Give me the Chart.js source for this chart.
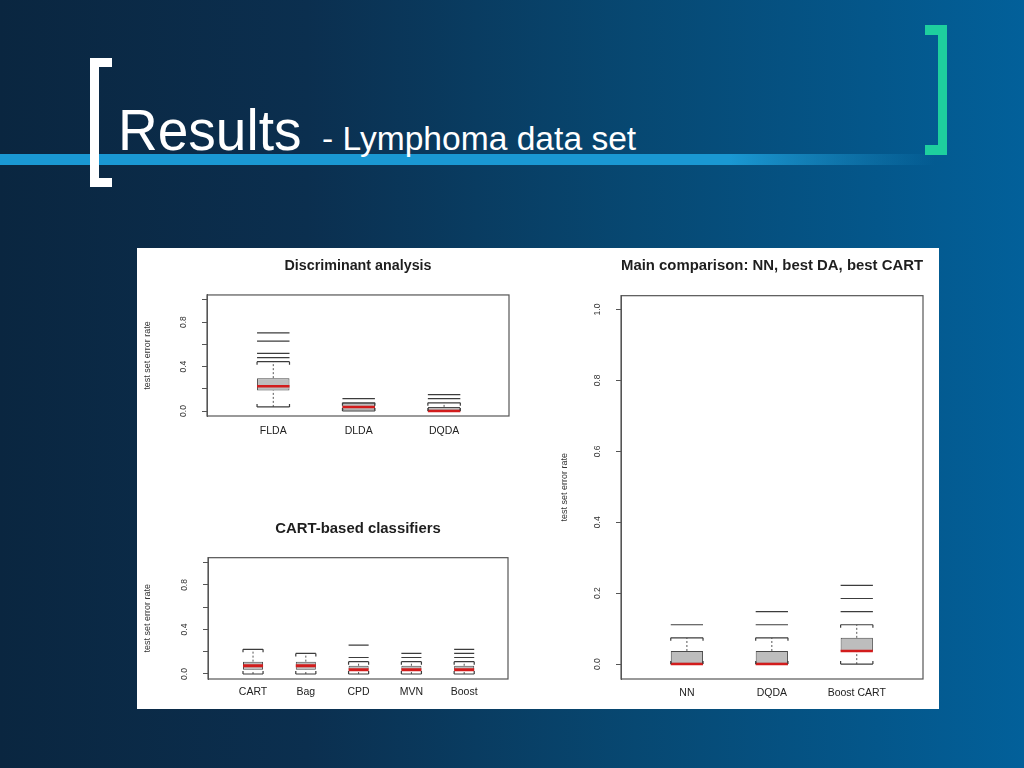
<!DOCTYPE html>
<html>
<head>
<meta charset="utf-8">
<script src="https://cdn.jsdelivr.net/npm/chart.js@4.4.0/dist/chart.umd.min.js"></script>
<style>
  html, body { margin:0; padding:0; width:1024px; height:768px; overflow:hidden; }
  body {
    position:relative;
    background: linear-gradient(90deg, #0a2640 0%, #0b2f4f 30%, #074872 62%, #02609a 100%);
    font-family: "Liberation Sans", Arial, sans-serif;
  }
  .stripe { position:absolute; left:0; top:154px; width:935px; height:11px;
    background: linear-gradient(90deg, #1a98d3 0%, #1a98d3 78%, rgba(26,152,211,0) 100%); }
  .lbracket { position:absolute; left:90px; top:58px; width:22px; height:129px; box-sizing:border-box;
    border-left:9px solid #fff; border-top:9px solid #fff; border-bottom:9px solid #fff; }
  .rbracket { position:absolute; left:925px; top:25px; width:22px; height:130px; box-sizing:border-box;
    border-right:9px solid #1ecf9e; border-top:10px solid #1ecf9e; border-bottom:10px solid #1ecf9e; }
  .t1 { position:absolute; left:118px; top:101.7px; font-size:57px; line-height:57px; color:#fff; white-space:nowrap;
        transform:scaleX(0.965); transform-origin:0 0; }
  .t2 { position:absolute; left:322px; top:122px; font-size:33.6px; line-height:33.6px; color:#fff; white-space:nowrap; }
  .panel { position:absolute; left:137px; top:248px; width:802px; height:461px; background:#fff; }
  canvas { position:absolute; }
</style>
</head>
<body>
<div class="stripe"></div>
<div class="lbracket"></div>
<div class="rbracket"></div>
<div class="t1">Results</div>
<div class="t2">- Lymphoma data set</div>
<div class="panel"></div>
<canvas id="c1" width="400" height="202" style="left:137px;top:248px;width:400px;height:202px"></canvas>
<canvas id="c2" width="400" height="199" style="left:137px;top:510px;width:400px;height:199px"></canvas>
<canvas id="c3" width="402" height="461" style="left:537px;top:248px;width:402px;height:461px"></canvas>
<script>
// ---------------- DATA ----------------
const DA_TITLE = 'Discriminant analysis';
const DA_CATEGORIES = ['FLDA', 'DLDA', 'DQDA'];
const DA_LOWER  = [0.037, 0.000, 0.000];
const DA_Q1     = [0.185, 0.000, 0.000];
const DA_MEDIAN = [0.222, 0.037, 0.000];
const DA_Q3     = [0.296, 0.074, 0.037];
const DA_UPPER  = [0.444, 0.074, 0.074];
const DA_OUTLIERS = [[0.481, 0.519, 0.630, 0.704], [0.111], [0.111, 0.148]];

const CART_TITLE = 'CART-based classifiers';
const CART_CATEGORIES = ['CART', 'Bag', 'CPD', 'MVN', 'Boost'];
const CART_LOWER  = [0.000, 0.000, 0.000, 0.000, 0.000];
const CART_Q1     = [0.037, 0.037, 0.037, 0.037, 0.037];
const CART_MEDIAN = [0.074, 0.074, 0.037, 0.037, 0.037];
const CART_Q3     = [0.111, 0.111, 0.074, 0.074, 0.074];
const CART_UPPER  = [0.222, 0.185, 0.111, 0.111, 0.111];
const CART_OUTLIERS = [[], [], [0.148, 0.259], [0.148, 0.185], [0.148, 0.185, 0.222]];

const MAIN_TITLE = 'Main comparison: NN, best DA, best CART';
const MAIN_CATEGORIES = ['NN', 'DQDA', 'Boost CART'];
const MAIN_LOWER  = [0.000, 0.000, 0.000];
const MAIN_Q1     = [0.000, 0.000, 0.037];
const MAIN_MEDIAN = [0.000, 0.000, 0.037];
const MAIN_Q3     = [0.037, 0.037, 0.074];
const MAIN_UPPER  = [0.074, 0.074, 0.111];
const MAIN_OUTLIERS = [[0.111], [0.111, 0.148], [0.148, 0.185, 0.222]];

const Y_AXIS_TITLE = 'test set error rate';
const Y_TICK_VALUES = [0.0, 0.2, 0.4, 0.6, 0.8, 1.0];
const Y_TICK_LABELS_SMALL = ['0.0', '', '0.4', '', '0.8', ''];
const Y_TICK_LABELS_MAIN  = ['0.0', '0.2', '0.4', '0.6', '0.8', '1.0'];

// ---------------- STYLE ----------------
const FONT = "'Liberation Sans', Arial, Helvetica, sans-serif";
Chart.defaults.font.family = FONT;
const BOX_WIDTH = 0.38;      // box width as a fraction of the category spacing
const MEDIAN_COLOR = '#d21c1c';
const LINE_COLOR = '#3c3c3c';
const BOX_FILL = '#bdbdbd';

function halfBoxPx(ctx) {
  const s = ctx.chart.scales.x;
  if (!s) return 0;
  const d = Math.abs(s.getPixelForValue(1 + BOX_WIDTH / 2) - s.getPixelForValue(1));
  return isFinite(d) ? d : 0;
}

const framePlugin = {
  id: 'frame',
  afterDatasetsDraw(chart) {
    const a = chart.chartArea, ctx = chart.ctx;
    ctx.save();
    // small end ticks on whisker staples (pointing toward the box)
    chart.data.datasets.forEach((ds, di) => {
      if (ds.label !== 'whisker caps') return;
      const meta = chart.getDatasetMeta(di);
      ctx.strokeStyle = LINE_COLOR;
      ctx.lineWidth = 1.2;
      meta.data.forEach((el, i) => {
        const r = el.options.radius;
        const dir = (i % 2 === 1) ? 1 : -1;
        ctx.beginPath();
        ctx.moveTo(el.x - r, el.y); ctx.lineTo(el.x - r, el.y + dir * 3);
        ctx.moveTo(el.x + r, el.y); ctx.lineTo(el.x + r, el.y + dir * 3);
        ctx.stroke();
      });
    });
    ctx.strokeStyle = '#555';
    ctx.lineWidth = 1.2;
    ctx.strokeRect(a.left, a.top, a.right - a.left, a.bottom - a.top);
    ctx.restore();
  }
};

function makeBoxplot(id, cfg) {
  const cats = cfg.categories;
  const xs = cats.map((c, i) => i + 1);
  const boxes = xs.map((x, i) => ({ x, y: [cfg.q1[i], cfg.q3[i]] }));
  const medians = xs.map((x, i) => ({ x, y: cfg.median[i] }));
  const caps = [];
  const whiskers = [];
  const outs = [];
  xs.forEach((x, i) => {
    caps.push({ x, y: cfg.lower[i] }, { x, y: cfg.upper[i] });
    whiskers.push({ x, y: cfg.lower[i] }, { x, y: cfg.q1[i] }, { x, y: null },
                  { x, y: cfg.q3[i] }, { x, y: cfg.upper[i] }, { x, y: null });
    cfg.outliers[i].forEach(v => outs.push({ x, y: v }));
  });
  const L = cfg.layout;
  return new Chart(document.getElementById(id), {
    type: 'scatter',
    data: {
      datasets: [
        { type: 'scatter', label: 'median', data: medians, order: 0,
          pointStyle: 'line', pointRadius: halfBoxPx, pointHoverRadius: halfBoxPx,
          pointBorderColor: MEDIAN_COLOR, pointBorderWidth: L.medianWidth, pointHoverBorderWidth: L.medianWidth },
        { type: 'scatter', label: 'whisker caps', data: caps, order: 1,
          pointStyle: 'line', pointRadius: halfBoxPx, pointHoverRadius: halfBoxPx,
          pointBorderColor: LINE_COLOR, pointBorderWidth: 1.2, pointHoverBorderWidth: 1.2 },
        { type: 'scatter', label: 'outliers', data: outs, order: 1,
          pointStyle: 'line', pointRadius: halfBoxPx, pointHoverRadius: halfBoxPx,
          pointBorderColor: LINE_COLOR, pointBorderWidth: 1.2, pointHoverBorderWidth: 1.2 },
        { type: 'line', label: 'whiskers', data: whiskers, order: 2,
          borderColor: '#555', borderWidth: 1, borderDash: [2, 2], pointRadius: 0,
          pointHoverRadius: 0, spanGaps: false, fill: false, tension: 0 },
        { type: 'bar', label: 'box', data: boxes, order: 3,
          backgroundColor: BOX_FILL, borderColor: '#4a4a4a', borderWidth: 1, borderSkipped: false,
          barPercentage: BOX_WIDTH, categoryPercentage: 1 }
      ]
    },
    options: {
      responsive: false,
      animation: false,
      events: [],
      layout: { autoPadding: false, padding: { left: 0, right: L.padRight, top: 0, bottom: 0 } },
      plugins: {
        legend: { display: false },
        tooltip: { enabled: false },
        title: {
          display: true, text: cfg.title, fullSize: false, color: '#1e1e1e',
          font: { size: L.titleSize, weight: 'bold', lineHeight: 1.2 },
          padding: { top: L.titleTop, bottom: L.titleBottom }
        }
      },
      scales: {
        x: {
          type: 'linear', min: cfg.xMin, max: cfg.xMax, offset: false,
          grid: { display: false, drawTicks: false, offset: false },
          border: { display: false },
          afterBuildTicks: s => { s.ticks = xs.map(v => ({ value: v })); },
          afterFit: s => { s.height = L.xHeight; },
          ticks: {
            autoSkip: false, maxRotation: 0, minRotation: 0, padding: L.xPad,
            color: '#222', font: { size: 10.5 },
            callback: v => cats[Math.round(v) - 1]
          }
        },
        y: {
          type: 'linear', min: cfg.yMin, max: cfg.yMax,
          afterBuildTicks: s => { s.ticks = Y_TICK_VALUES.map(v => ({ value: v })); },
          afterFit: s => { s.width = L.yWidth; },
          grid: { display: true, drawOnChartArea: false, drawTicks: true, tickLength: 5, color: '#555' },
          border: { display: true, color: '#555' },
          ticks: {
            autoSkip: false, minRotation: 90, maxRotation: 90, crossAlign: 'center',
            padding: 12, color: '#333', font: { size: 8.5 },
            callback: (v, i) => cfg.yLabels[i]
          },
          title: {
            display: true, text: Y_AXIS_TITLE, color: '#333', font: { size: 9 },
            padding: { top: L.yTitlePad, bottom: 0 }
          }
        }
      }
    },
    plugins: [framePlugin]
  });
}

makeBoxplot('c1', {
  title: DA_TITLE, categories: DA_CATEGORIES, lower: DA_LOWER, q1: DA_Q1, median: DA_MEDIAN,
  q3: DA_Q3, upper: DA_UPPER, outliers: DA_OUTLIERS, yLabels: Y_TICK_LABELS_SMALL,
  xMin: 0.224, xMax: 3.76, yMin: -0.045, yMax: 1.045,
  layout: { padRight: 28, titleSize: 14.3, titleTop: 9.4, titleBottom: 20.4, xHeight: 34, yWidth: 70,
            xPad: 9, yTitlePad: 5, medianWidth: 2.5 }
});

makeBoxplot('c2', {
  title: CART_TITLE, categories: CART_CATEGORIES, lower: CART_LOWER, q1: CART_Q1, median: CART_MEDIAN,
  q3: CART_Q3, upper: CART_UPPER, outliers: CART_OUTLIERS, yLabels: Y_TICK_LABELS_SMALL,
  xMin: 0.147, xMax: 5.83, yMin: -0.045, yMax: 1.045,
  layout: { padRight: 29, titleSize: 14.9, titleTop: 10.1, titleBottom: 19.7, xHeight: 30, yWidth: 71,
            xPad: 7, yTitlePad: 5.5, medianWidth: 3 }
});

makeBoxplot('c3', {
  title: MAIN_TITLE, categories: MAIN_CATEGORIES, lower: MAIN_LOWER, q1: MAIN_Q1, median: MAIN_MEDIAN,
  q3: MAIN_Q3, upper: MAIN_UPPER, outliers: MAIN_OUTLIERS, yLabels: Y_TICK_LABELS_MAIN,
  xMin: 0.224, xMax: 3.78, yMin: -0.042, yMax: 1.039,
  layout: { padRight: 16, titleSize: 14.9, titleTop: 8.8, titleBottom: 21.0, xHeight: 30, yWidth: 84,
            xPad: 8, yTitlePad: 22, medianWidth: 2.5 }
});
</script>
</body>
</html>
